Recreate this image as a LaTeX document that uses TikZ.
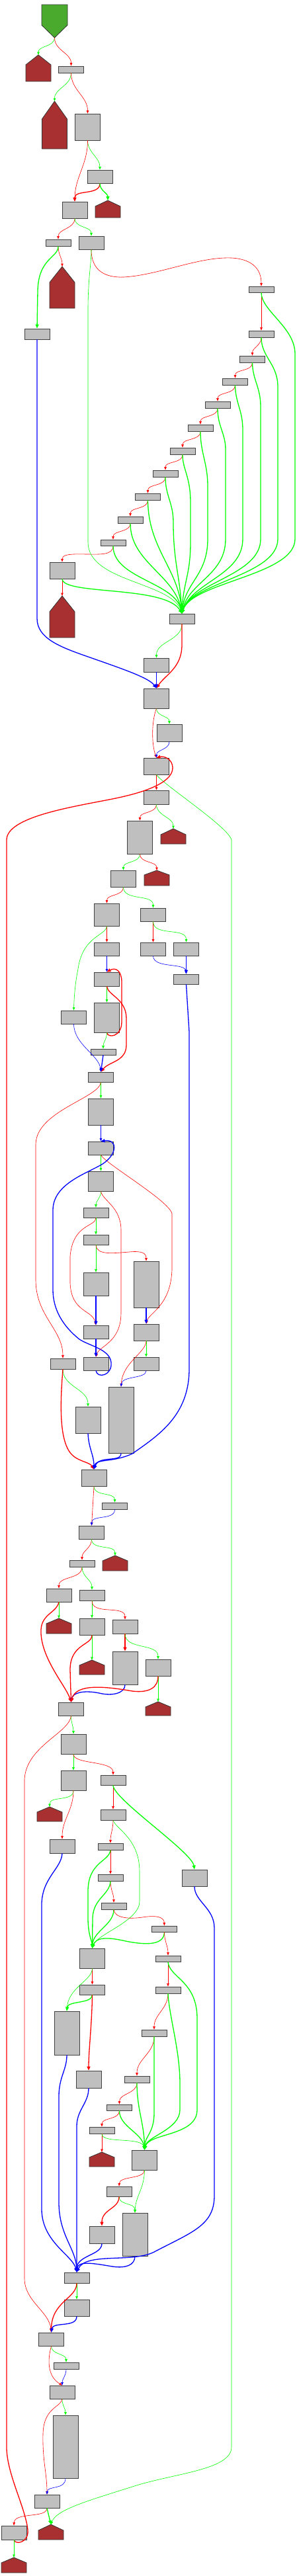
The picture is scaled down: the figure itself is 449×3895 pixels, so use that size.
\documentclass[tikz,border=0pt]{standalone}
\usepackage{tikz}
\usetikzlibrary{arrows.meta}
\definecolor{retred}{RGB}{168,48,48}
\definecolor{entrygreen}{RGB}{74,170,46}
\definecolor{blkgray}{RGB}{191,191,191}
% basic block: name, centre x, top y, bottom y
\newcommand{\cfgblock}[4]{\node[blk, minimum height={#4-#3}] (#1) at (#2,{(#3+#4)/2}) {};}
% return block: name, centre x, roof top, eaves, bottom
\newcommand{\retblock}[5]{%
  \draw[retblk] ({#2-19},#4) -- (#2,#3) -- ({#2+19},#4) -- ({#2+19},#5) -- ({#2-19},#5) -- cycle;
  \coordinate (#1) at (#2,#3);}

\begin{document}
\begin{tikzpicture}[x=1pt, y=-1pt,
    blk/.style={rectangle, draw=black!75, fill=blkgray, line width=0.8pt, minimum width=38pt, inner sep=0pt},
    retblk/.style={draw=black!80, fill=retred, line width=0.8pt},
    cfarc/.style={-{Triangle[length=4.5pt,width=3.5pt]}, line width=0.6pt},
    heavy/.style={-{Triangle[length=6pt,width=5pt]}, line width=1.3pt},
    tru/.style={cfarc, green},
    fls/.style={cfarc, red},
    jmp/.style={cfarc, blue}]
    \useasboundingbox (0,0) rectangle (449,3895);

    % entry
    \draw[retblk, fill=entrygreen] (63,7) -- (102,7) -- (102,38) -- (82.5,57) -- (63,38) -- cycle;
    \coordinate (entry) at (82.5,57);

    % returns
    \retblock{hA}{58}{83}{98}{123}
    \retblock{hC}{82.5}{153}{180}{225}
    \retblock{hD}{163}{303}{312}{329}
    \retblock{hE}{94}{403}{427}{466}
    \retblock{hF}{94}{901}{925}{964}
    \retblock{hG}{262}{1253}{1262}{1276}
    \retblock{hI}{237}{1316}{1323}{1339}
    \retblock{hJ}{174}{2352}{2360}{2375}
    \retblock{hK}{89}{2447}{2455}{2470}
    \retblock{hL}{139}{2510}{2518}{2532}
    \retblock{hM}{239}{2573}{2581}{2594}
    \retblock{hN}{75}{2732}{2740}{2754}
    \retblock{hO}{154}{3254}{3262}{3276}
    \retblock{hP}{77}{3817}{3826}{3840}
    \retblock{hQ}{21}{3867}{3875}{3890}

    % head
    \cfgblock{b1}{107.5}{100}{110}
    \cfgblock{b2}{132.5}{172}{212}
    \cfgblock{b3}{151}{257}{277}
    \cfgblock{b4}{113}{305}{330}
    \cfgblock{b5}{88}{362}{372}
    \cfgblock{b6}{138}{357}{377}
    \cfgblock{b7}{56}{497}{513}

    % switch chain
    \cfgblock{r1}{395}{433}{442}
    \cfgblock{r2}{395}{500}{510}
    \cfgblock{r3}{381.5}{538}{548}
    \cfgblock{r4}{355.5}{572}{582}
    \cfgblock{r5}{329}{607}{617}
    \cfgblock{r6}{303}{642}{652}
    \cfgblock{r7}{276}{677}{687}
    \cfgblock{r8}{250}{711}{721}
    \cfgblock{r9}{223.5}{746}{756}
    \cfgblock{r10}{197}{781}{791}
    \cfgblock{r11}{171}{816}{825}
    \cfgblock{b8}{94}{850}{875}
    \cfgblock{hub}{275}{928}{943}

    % body
    \cfgblock{b9}{236.5}{995}{1016}
    \cfgblock{b10}{236.5}{1041}{1071}
    \cfgblock{b11}{256}{1095}{1121}
    \cfgblock{b12}{236.5}{1146}{1171}
    \cfgblock{b13}{236.5}{1195}{1216}
    \cfgblock{b14}{211.5}{1241}{1291}
    \cfgblock{b15}{186.5}{1316}{1341}
    \cfgblock{b16}{161.5}{1366}{1400}
    \cfgblock{b17}{231.5}{1373}{1393}
    \cfgblock{b18}{161.5}{1425}{1445}
    \cfgblock{b19}{231.5}{1425}{1445}
    \cfgblock{b20}{281.5}{1425}{1445}
    \cfgblock{b21}{161.5}{1470}{1491}
    \cfgblock{b22}{281.5}{1473}{1488}
    \cfgblock{b23}{111.5}{1528}{1548}
    \cfgblock{b24}{161.5}{1516}{1561}
    \cfgblock{b25}{156}{1586}{1595}
    \cfgblock{b26}{152.5}{1621}{1636}
    \cfgblock{b27}{152.5}{1661}{1701}
    \cfgblock{b28}{152.5}{1726}{1746}
    \cfgblock{b29}{152.5}{1771}{1801}
    \cfgblock{b30}{145}{1826}{1841}
    \cfgblock{b31}{145}{1867}{1882}
    \cfgblock{c1}{145}{1924}{1959}
    \cfgblock{c2}{221}{1907}{1977}
    \cfgblock{c3}{145}{2004}{2024}
    \cfgblock{c4}{221}{2002}{2027}
    \cfgblock{c5}{145}{2052}{2072}
    \cfgblock{c6}{95}{2054}{2070}
    \cfgblock{c7}{221}{2052}{2072}
    \cfgblock{c8}{183}{2097}{2197}
    \cfgblock{c9}{133}{2127}{2167}
    \cfgblock{m1}{142}{2222}{2247}

    % tail
    \cfgblock{p1}{173.5}{2272}{2282}
    \cfgblock{p2}{138.5}{2307}{2327}
    \cfgblock{p3}{124}{2359}{2369}
    \cfgblock{p4}{89}{2402}{2422}
    \cfgblock{p5}{139}{2404}{2420}
    \cfgblock{p6}{139}{2447}{2472}
    \cfgblock{p7}{189}{2449}{2470}
    \cfgblock{p8}{189}{2497}{2547}
    \cfgblock{p9}{239}{2509}{2534}
    \cfgblock{q1}{107.5}{2574}{2594}
    \cfgblock{q2}{111}{2622}{2652}
    \cfgblock{q3}{111}{2677}{2707}
    \cfgblock{q4}{171}{2684}{2699}
    \cfgblock{q5}{94}{2781}{2802}
    \cfgblock{q6}{171}{2736}{2752}
    \cfgblock{q7}{294}{2827}{2852}
    \cfgblock{q8}{167}{2787}{2797}
    \cfgblock{q9}{167}{2834}{2844}
    \cfgblock{q10}{172}{2877}{2887}
    \cfgblock{t1}{139.5}{2946}{2976}
    \cfgblock{t2}{139.5}{3001}{3016}
    \cfgblock{t3}{101}{3041}{3107}
    \cfgblock{t4}{134}{3131}{3157}
    \cfgblock{u1}{248.5}{2912}{2921}
    \cfgblock{u2}{254}{2957}{2966}
    \cfgblock{u3}{254}{3004}{3014}
    \cfgblock{u4}{233}{3069}{3079}
    \cfgblock{u5}{207}{3139}{3149}
    \cfgblock{u6}{180.5}{3182}{3191}
    \cfgblock{u7}{154}{3216}{3226}
    \cfgblock{w1}{218.5}{3251}{3281}
    \cfgblock{w2}{180}{3306}{3321}
    \cfgblock{w3}{204}{3346}{3411}
    \cfgblock{w4}{154}{3366}{3392}
    \cfgblock{v1}{116}{3436}{3452}
    \cfgblock{v2}{116}{3477}{3502}
    \cfgblock{s4}{77.5}{3527}{3547}
    \cfgblock{s5}{100}{3572}{3582}
    \cfgblock{s6}{94}{3607}{3627}
    \cfgblock{s7}{99}{3652}{3747}
    \cfgblock{s8}{71}{3772}{3792}
    \cfgblock{bz}{21}{3819}{3840}

    % head edges
    \draw[tru] (entry) to[out=-90,in=90] (hA);
    \draw[fls] (entry) to[out=-90,in=90] (b1.north);
    \draw[tru] (b1.south) to[out=-90,in=90] (hC);
    \draw[fls] (b1.south) to[out=-90,in=90] (b2.north);
    \draw[tru] (b2.south) to[out=-90,in=90] (b3.north);
    \draw[fls] (b2.south) to[out=-90,in=90] (b4.north);
    \draw[fls, heavy] (b3.south) to[out=-90,in=90] (b4.north);
    \draw[tru, heavy] (b3.south) to[out=-90,in=90] (hD);
    \draw[fls] (b4.south) to[out=-90,in=90] (b5.north);
    \draw[tru] (b4.south) to[out=-90,in=90] (b6.north);
    \draw[fls] (b5.south) to[out=-90,in=90] (hE);
    \draw[tru, heavy] (b5.south) .. controls (88,390) and (58,390) .. (57,440) -- (b7.north);
    \draw[jmp, heavy] (b7.south) -- (56,935) .. controls (56,965) and (90,978) .. (133,993) .. controls (190,1013) and (225,1025) .. (b10.north);

    % switch chain edges
    \draw[fls] (b6.south) .. controls (138,410) and (160,420) .. (187,419) .. controls (240,416) and (300,388) .. (350,390) .. controls (385,392) and (395,410) .. (r1.north);
    \draw[fls] (r1.south) -- (r2.north);
    \draw[fls] (r2.south) to[out=-90,in=90] (r3.north);
    \draw[fls] (r3.south) to[out=-90,in=90] (r4.north);
    \draw[fls] (r4.south) to[out=-90,in=90] (r5.north);
    \draw[fls] (r5.south) to[out=-90,in=90] (r6.north);
    \draw[fls] (r6.south) to[out=-90,in=90] (r7.north);
    \draw[fls] (r7.south) to[out=-90,in=90] (r8.north);
    \draw[fls] (r8.south) to[out=-90,in=90] (r9.north);
    \draw[fls] (r9.south) to[out=-90,in=90] (r10.north);
    \draw[fls] (r10.south) to[out=-90,in=90] (r11.north);
    \draw[fls] (r11.south) .. controls (171,840) and (150,838) .. (130,838) .. controls (100,837) and (94,840) .. (b8.north);
    \draw[fls] (b8.south) -- (hF);

    \draw[tru] (b6.south) .. controls (138,400) and (133,420) .. (133,470) -- (133,820) .. controls (133,880) and (260,880) .. (hub.north);
    \draw[tru, heavy] (r1.south) .. controls (395,470) and (446,495) .. (446,535) -- (446,815) .. controls (446,870) and (290,880) .. (hub.north);
    \draw[tru, heavy] (r2.south) .. controls (395,540) and (420,550) .. (420,585) -- (420,815) .. controls (420,870) and (290,880) .. (hub.north);
    \draw[tru, heavy] (r3.south) .. controls (382,575) and (394,585) .. (394,615) -- (394,815) .. controls (394,870) and (290,880) .. (hub.north);
    \draw[tru, heavy] (r4.south) .. controls (356,610) and (367,620) .. (367,650) -- (367,815) .. controls (367,870) and (290,880) .. (hub.north);
    \draw[tru, heavy] (r5.south) .. controls (329,645) and (341,655) .. (341,680) -- (341,815) .. controls (341,870) and (285,880) .. (hub.north);
    \draw[tru, heavy] (r6.south) .. controls (303,685) and (314,700) .. (314,735) -- (314,815) .. controls (314,870) and (280,880) .. (hub.north);
    \draw[tru, heavy] (r7.south) .. controls (276,710) and (288,720) .. (288,760) -- (288,820) .. controls (288,870) and (277,880) .. (hub.north);
    \draw[tru, heavy] (r8.south) .. controls (250,750) and (262,760) .. (262,790) .. controls (262,850) and (272,870) .. (hub.north);
    \draw[tru, heavy] (r9.south) .. controls (224,830) and (270,860) .. (hub.north);
    \draw[tru, heavy] (r10.south) .. controls (197,850) and (265,870) .. (hub.north);
    \draw[tru, heavy] (r11.south) .. controls (171,875) and (265,880) .. (hub.north);
    \draw[tru, heavy] (b8.south) .. controls (95,900) and (250,885) .. (hub.north);

    % body edges
    \draw[tru] (hub.south) to[out=-90,in=90] (b9.north);
    \draw[fls, heavy] (hub.south) -- (275,975) .. controls (275,1010) and (250,1020) .. (b10.north);
    \draw[jmp, heavy] (b9.south) -- (b10.north);
    \draw[tru] (b10.south) to[out=-90,in=90] (b11.north);
    \draw[fls] (b10.south) .. controls (229,1090) and (229,1125) .. (b12.north);
    \draw[jmp] (b11.south) to[out=-90,in=90] (b12.north);
    \draw[fls] (b12.south) -- (b13.north);
    \draw[tru] (b12.south) .. controls (245,1185) and (345,1250) .. (350,1270) -- (350,3700) .. controls (350,3735) and (260,3740) .. (200,3760) .. controls (130,3782) and (85,3795) .. (hP);
    \draw[fls, heavy] (bz.south) .. controls (23,3848) and (44,3845) .. (42,3825) .. controls (38,3790) and (10,3740) .. (10,3700) -- (10,1270) .. controls (10,1235) and (110,1220) .. (170,1208) .. controls (230,1196) and (262,1180) .. (261,1160) .. controls (260,1147) and (248,1143) .. (b12.north);
    \draw[fls] (b13.south) to[out=-90,in=90] (b14.north);
    \draw[tru] (b13.south) to[out=-90,in=90] (hG);
    \draw[tru] (b14.south) to[out=-90,in=90] (b15.north);
    \draw[fls] (b14.south) to[out=-90,in=90] (hI);
    \draw[fls] (b15.south) to[out=-90,in=90] (b16.north);
    \draw[tru] (b15.south) to[out=-90,in=90] (b17.north);
    \draw[fls] (b16.south) -- (b18.north);
    \draw[tru] (b16.south) .. controls (160,1415) and (125,1415) .. (118,1465) .. controls (113,1490) and (112,1510) .. (b23.north);
    \draw[fls] (b17.south) -- (b19.north);
    \draw[tru] (b17.south) to[out=-90,in=90] (b20.north);
    \draw[jmp] (b18.south) -- (b21.north);
    \draw[jmp] (b19.south) .. controls (232,1465) and (280,1455) .. (b22.north);
    \draw[jmp, heavy] (b20.south) -- (b22.north);
    \draw[jmp, heavy] (b22.south) -- (286,1560) -- (286,2070) .. controls (286,2140) and (240,2170) .. (200,2198) .. controls (170,2212) and (145,2205) .. (m1.north);
    \draw[tru] (b21.south) -- (b24.north);
    \draw[fls, heavy] (b24.south) .. controls (163,1570) and (184,1568) .. (184,1545) -- (184,1485) .. controls (184,1468) and (175,1462) .. (b21.north);
    \draw[fls, heavy] (b21.south) .. controls (163,1505) and (191,1510) .. (191,1540) -- (191,1580) .. controls (191,1605) and (165,1605) .. (b26.north);
    \draw[tru] (b24.south) to[out=-90,in=90] (b25.north);
    \draw[jmp, heavy] (b25.south) -- (b26.north);
    \draw[jmp] (b23.south) .. controls (112,1580) and (150,1595) .. (b26.north);
    \draw[tru] (b26.south) -- (b27.north);
    \draw[fls] (b26.south) .. controls (150,1660) and (55,1680) .. (54,1730) -- (54,1935) .. controls (54,1990) and (95,2010) .. (c6.north);
    \draw[jmp] (b27.south) -- (b28.north);
    \draw[tru] (b28.south) -- (b29.north);
    \draw[fls] (b28.south) .. controls (160,1760) and (255,1815) .. (260,1835) -- (260,1920) .. controls (258,1975) and (225,1985) .. (c4.north);
    \draw[jmp, heavy] (c5.south) .. controls (147,2085) and (170,2080) .. (168,2060) .. controls (166,2040) and (135,2035) .. (120,2025) .. controls (95,2005) and (80,1980) .. (80,1950) -- (80,1830) .. controls (80,1790) and (130,1775) .. (155,1760) .. controls (178,1745) and (178,1722) .. (b28.north);
    \draw[tru] (b29.south) to[out=-90,in=90] (b30.north);
    \draw[fls] (b29.south) .. controls (155,1815) and (183,1825) .. (183,1860) -- (183,1985) .. controls (183,2030) and (150,2035) .. (c5.north);
    \draw[tru] (b30.south) -- (b31.north);
    \draw[fls] (b30.south) .. controls (145,1855) and (110,1850) .. (106,1900) -- (106,1940) .. controls (108,1985) and (140,1980) .. (c3.north);
    \draw[tru] (b31.south) -- (c1.north);
    \draw[fls] (b31.south) .. controls (146,1898) and (170,1895) .. (195,1893) .. controls (215,1891) and (221,1895) .. (c2.north);
    \draw[jmp, heavy] (c1.south) -- (c3.north);
    \draw[jmp, heavy] (c3.south) -- (c5.north);
    \draw[jmp, heavy] (c2.south) -- (c4.north);
    \draw[tru] (c4.south) -- (c7.north);
    \draw[fls] (c4.south) .. controls (221,2045) and (185,2060) .. (c8.north);
    \draw[jmp] (c7.south) .. controls (221,2085) and (185,2080) .. (c8.north);
    \draw[tru] (c6.south) to[out=-90,in=90] (c9.north);
    \draw[fls, heavy] (c6.south) .. controls (92,2110) and (88,2170) .. (105,2195) .. controls (115,2210) and (135,2210) .. (m1.north);
    \draw[jmp, heavy] (c9.south) .. controls (134,2190) and (142,2200) .. (m1.north);
    \draw[jmp, heavy] (c8.south) .. controls (183,2212) and (150,2200) .. (m1.north);

    % tail edges
    \draw[tru] (m1.south) to[out=-90,in=90] (p1.north);
    \draw[fls] (m1.south) -- (p2.north);
    \draw[jmp] (p1.south) to[out=-90,in=90] (p2.north);
    \draw[fls] (p2.south) to[out=-90,in=90] (p3.north);
    \draw[tru] (p2.south) to[out=-90,in=90] (hJ);
    \draw[fls] (p3.south) to[out=-90,in=90] (p4.north);
    \draw[tru] (p3.south) to[out=-90,in=90] (p5.north);
    \draw[tru] (p4.south) -- (hK);
    \draw[fls, heavy] (p4.south) .. controls (85,2440) and (60,2440) .. (62,2470) .. controls (64,2510) and (100,2550) .. (q1.north);
    \draw[tru] (p5.south) -- (p6.north);
    \draw[fls] (p5.south) to[out=-90,in=90] (p7.north);
    \draw[tru] (p6.south) -- (hL);
    \draw[fls, heavy] (p6.south) .. controls (139,2488) and (106,2485) .. (106,2525) -- (q1.north);
    \draw[fls, heavy] (p7.south) -- (p8.north);
    \draw[tru] (p7.south) to[out=-90,in=90] (p9.north);
    \draw[jmp, heavy] (p8.south) .. controls (189,2560) and (170,2565) .. (150,2560) .. controls (125,2555) and (110,2560) .. (q1.north);
    \draw[tru] (p9.south) -- (hM);
    \draw[fls, heavy] (p9.south) .. controls (239,2552) and (225,2560) .. (200,2557) .. controls (160,2550) and (115,2545) .. (q1.north);

    \draw[tru] (q1.south) to[out=-90,in=90] (q2.north);
    \draw[fls] (q1.south) .. controls (105,2620) and (40,2640) .. (37,2690) -- (37,3445) .. controls (37,3480) and (75,3495) .. (s4.north);
    \draw[tru] (q2.south) -- (q3.north);
    \draw[fls] (q2.south) .. controls (111,2668) and (171,2662) .. (q4.north);
    \draw[tru] (q3.south) to[out=-90,in=90] (hN);
    \draw[fls] (q3.south) to[out=-90,in=90] (q5.north);
    \draw[fls] (q4.south) -- (q6.north);
    \draw[tru, heavy] (q4.south) .. controls (171,2720) and (290,2800) .. (q7.north);
    \draw[fls] (q6.south) to[out=-90,in=90] (q8.north);
    \draw[tru] (q6.south) .. controls (175,2765) and (211,2780) .. (211,2830) -- (211,2875) .. controls (211,2905) and (145,2925) .. (t1.north);
    \draw[fls] (q8.south) -- (q9.north);
    \draw[tru, heavy] (q8.south) .. controls (165,2815) and (133,2815) .. (133,2860) -- (133,2900) .. controls (133,2925) and (139,2935) .. (t1.north);
    \draw[fls] (q9.south) to[out=-90,in=90] (q10.north);
    \draw[tru, heavy] (q9.south) .. controls (166,2865) and (141,2870) .. (140,2900) -- (t1.north);
    \draw[tru, heavy] (q10.south) .. controls (172,2910) and (141,2920) .. (t1.north);
    \draw[fls] (q10.south) .. controls (173,2900) and (195,2902) .. (215,2899) .. controls (240,2895) and (248,2900) .. (u1.north);
    \draw[tru, heavy] (u1.south) .. controls (248,2940) and (225,2942) .. (190,2935) .. controls (160,2928) and (145,2930) .. (t1.north);
    \draw[fls] (u1.south) to[out=-90,in=90] (u2.north);
    \draw[fls] (t1.south) -- (t2.north);
    \draw[tru] (t1.south) .. controls (139,2995) and (103,3005) .. (t3.north);
    \draw[tru, heavy] (t2.south) .. controls (139,3030) and (103,3025) .. (t3.north);
    \draw[fls, heavy] (t2.south) .. controls (139,3060) and (134,3100) .. (t4.north);

    \draw[fls] (u2.south) -- (u3.north);
    \draw[tru, heavy] (u2.south) .. controls (256,2990) and (297,2995) .. (298,3050) -- (298,3190) .. controls (298,3230) and (225,3225) .. (w1.north);
    \draw[fls] (u3.south) to[out=-90,in=90] (u4.north);
    \draw[tru, heavy] (u3.south) .. controls (256,3050) and (272,3100) .. (272,3150) -- (272,3190) .. controls (272,3220) and (222,3230) .. (w1.north);
    \draw[fls] (u4.south) to[out=-90,in=90] (u5.north);
    \draw[tru, heavy] (u4.south) -- (233,3195) .. controls (233,3225) and (219,3230) .. (w1.north);
    \draw[fls] (u5.south) to[out=-90,in=90] (u6.north);
    \draw[tru, heavy] (u5.south) .. controls (207,3190) and (218,3210) .. (w1.north);
    \draw[fls] (u6.south) to[out=-90,in=90] (u7.north);
    \draw[tru, heavy] (u6.south) .. controls (180,3215) and (215,3225) .. (w1.north);
    \draw[fls] (u7.south) -- (hO);
    \draw[tru] (u7.south) .. controls (154,3242) and (215,3230) .. (w1.north);
    \draw[fls] (w1.south) .. controls (218,3295) and (181,3290) .. (w2.north);
    \draw[tru] (w1.south) .. controls (218,3310) and (205,3320) .. (w3.north);
    \draw[tru] (w2.south) .. controls (180,3335) and (204,3330) .. (w3.north);
    \draw[fls, heavy] (w2.south) .. controls (180,3340) and (154,3340) .. (w4.north);

    \draw[jmp, heavy] (w4.south) .. controls (154,3410) and (116,3410) .. (v1.north);
    \draw[jmp, heavy] (w3.south) .. controls (204,3425) and (190,3430) .. (170,3427) .. controls (140,3422) and (118,3418) .. (v1.north);
    \draw[jmp, heavy] (q7.south) .. controls (294,2875) and (324,2885) .. (324,2915) -- (324,3320) .. controls (324,3365) and (290,3375) .. (233,3405) .. controls (200,3422) and (130,3405) .. (v1.north);
    \draw[jmp, heavy] (q5.south) .. controls (93,2825) and (63,2840) .. (63,2880) -- (63,3340) .. controls (63,3390) and (110,3410) .. (v1.north);
    \draw[jmp, heavy] (t3.south) .. controls (101,3130) and (89,3140) .. (89,3170) -- (89,3330) .. controls (89,3380) and (115,3400) .. (v1.north);
    \draw[jmp, heavy] (t4.south) .. controls (134,3180) and (116,3190) .. (116,3215) -- (v1.north);
    \draw[tru] (v1.south) -- (v2.north);
    \draw[fls, heavy] (v1.south) .. controls (116,3475) and (78,3480) .. (s4.north);
    \draw[jmp, heavy] (v2.south) .. controls (116,3520) and (80,3510) .. (s4.north);
    \draw[tru] (s4.south) to[out=-90,in=90] (s5.north);
    \draw[fls] (s4.south) .. controls (70,3575) and (75,3595) .. (s6.north);
    \draw[jmp] (s5.south) to[out=-90,in=90] (s6.north);
    \draw[tru] (s6.south) to[out=-90,in=90] (s7.north);
    \draw[fls] (s6.south) .. controls (92,3640) and (66,3640) .. (65,3680) .. controls (64,3720) and (71,3740) .. (s8.north);
    \draw[jmp] (s7.south) .. controls (99,3765) and (72,3758) .. (s8.north);
    \draw[fls] (s8.south) .. controls (71,3808) and (22,3798) .. (bz.north);
    \draw[tru, heavy] (s8.south) -- (hP);
    \draw[tru] (bz.south) -- (hQ);
\end{tikzpicture}
\end{document}
